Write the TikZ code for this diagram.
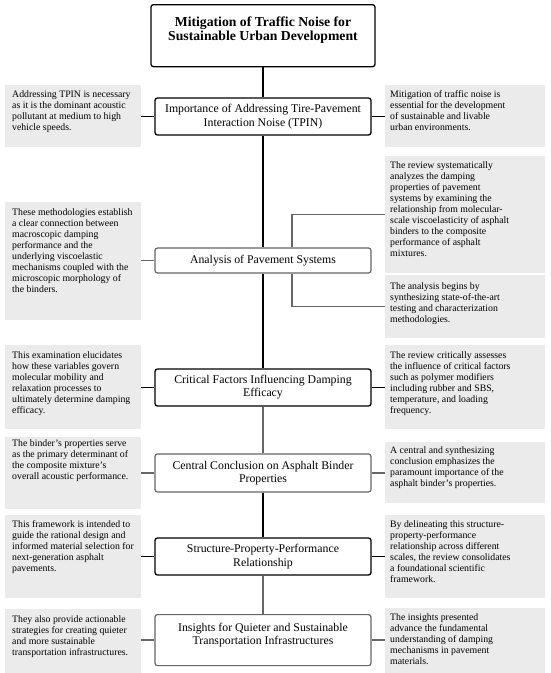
\documentclass[tikz,border=0pt]{standalone}
\usepackage{fontspec}
\setmainfont{Liberation Serif}
\definecolor{boxgray}{HTML}{EBEBEB}
\definecolor{linegray}{HTML}{666666}
\newcommand{\gfont}{\fontsize{9.8}{11}\selectfont}
\newcommand{\mfont}{\fontsize{11.8}{13.2}\selectfont}
\newcommand{\tfont}{\bfseries\fontsize{13.7}{14.2}\selectfont}
\newcommand{\gtxt}[5]{\begin{minipage}[t][#2pt][t]{#1pt}\gfont\leftskip=#4pt\rightskip=0pt plus 1fil\parindent=0pt\vspace*{#3pt}\strut #5\end{minipage}}
\begin{document}
\begin{tikzpicture}[x=1pt,y=-1pt,
  gbox/.style={fill=boxgray, inner sep=0pt, anchor=north west},
  mainbox/.style={draw=black, line width=1.3pt, rounded corners=2.5pt, fill=white, minimum width=216pt, align=center, font=\mfont, inner sep=0pt},
  graybox/.style={mainbox, draw=linegray, line width=1.2pt},
  blk/.style={draw=black, line width=1.8pt},
  gry/.style={draw=linegray, line width=1.3pt}]
\useasboundingbox[fill=white] (0,0) rectangle (550,673);

% title
\node[mainbox, minimum width=224pt, anchor=north] (title) at (263,4)
  {\begin{minipage}[t][62pt][t]{224pt}\centering\tfont\vspace*{12pt}\strut Mitigation of Traffic Noise for\\Sustainable Urban Development\end{minipage}};

% main boxes
\node[mainbox, minimum height=37pt] (tpin) at (263,116.5) {Importance of Addressing Tire-Pavement\\Interaction Noise (TPIN)};
\node[graybox, minimum height=25pt] (ana) at (263,260.5) {Analysis of Pavement Systems};
\node[mainbox, minimum height=37pt] (crit) at (263,387.5) {Critical Factors Influencing Damping\\Efficacy};
\node[graybox, minimum height=38pt] (cent) at (263,473) {Central Conclusion on Asphalt Binder\\Properties};
\node[mainbox, minimum height=37pt] (struc) at (263,556.5) {Structure-Property-Performance\\Relationship};
\node[graybox, minimum height=51pt, anchor=north] (ins) at (263,614)
  {\begin{minipage}[t][51pt][t]{216pt}\centering\mfont\vspace*{7.6pt}\strut Insights for Quieter and Sustainable\\Transportation Infrastructures\end{minipage}};

% gray text boxes
\node[gbox] (l1) at (5,85) {\gtxt{136}{62}{4.3}{7}{Addressing TPIN is necessary\\as it is the dominant acoustic\\pollutant at medium to high\\vehicle speeds.}};
\node[gbox] (r1) at (385,85) {\gtxt{160}{62}{4.3}{5}{Mitigation of traffic noise is\\essential for the development\\of sustainable and livable\\urban environments.}};
\node[gbox] (l2) at (5,202) {\gtxt{136}{118}{5.3}{7}{These methodologies establish\\a clear connection between\\macroscopic damping\\performance and the\\underlying viscoelastic\\mechanisms coupled with the\\microscopic morphology of\\the binders.}};
\node[gbox] (r2a) at (385,156) {\gtxt{160}{117}{4.3}{5}{The review systematically\\analyzes the damping\\properties of pavement\\systems by examining the\\relationship from molecular-\\scale viscoelasticity of asphalt\\binders to the composite\\performance of asphalt\\mixtures.}};
\node[gbox] (r2b) at (385,275) {\gtxt{160}{63}{6.3}{5}{The analysis begins by\\synthesizing state-of-the-art\\testing and characterization\\methodologies.}};
\node[gbox] (l3) at (5,345) {\gtxt{136}{84}{5.3}{7}{This examination elucidates\\how these variables govern\\molecular mobility and\\relaxation processes to\\ultimately determine damping\\efficacy.}};
\node[gbox] (r3) at (385,345) {\gtxt{160}{84}{5.3}{5}{The review critically assesses\\the influence of critical factors\\such as polymer modifiers\\including rubber and SBS,\\temperature, and loading\\frequency.}};
\node[gbox] (l4) at (5,437) {\gtxt{136}{72}{1.3}{7}{The binder's properties serve\\as the primary determinant of\\the composite mixture's\\overall acoustic performance.}};
\node[gbox] (r4) at (385,442) {\gtxt{160}{61}{3.3}{5}{A central and synthesizing\\conclusion emphasizes the\\paramount importance of the\\asphalt binder's properties.}};
\node[gbox] (l5) at (5,515) {\gtxt{136}{83}{4.3}{7}{This framework is intended to\\guide the rational design and\\informed material selection for\\next-generation asphalt\\pavements.}};
\node[gbox] (r5) at (385,515) {\gtxt{160}{83}{4.3}{5}{By delineating this structure-\\property-performance\\relationship across different\\scales, the review consolidates\\a foundational scientific\\framework.}};
\node[gbox] (l6) at (5,609) {\gtxt{136}{64}{5.3}{7}{They also provide actionable\\strategies for creating quieter\\and more sustainable\\transportation infrastructures.}};
\node[gbox] (r6) at (385,608) {\gtxt{160}{65}{4.3}{5}{The insights presented\\advance the fundamental\\understanding of damping\\mechanisms in pavement\\materials.}};

% trunk
\draw[blk] (title.south) -- (tpin.north);
\draw[blk] (tpin.south) -- (ana.north);
\draw[blk] (ana.south) -- (crit.north);
\draw[gry] (crit.south) -- (cent.north);
\draw[blk] (cent.south) -- (struc.north);
\draw[gry] (struc.south) -- (ins.north);

% side connectors
\draw[blk] (tpin.west -| l1.east) -- (tpin.west);
\draw[blk] (tpin.east) -- (tpin.east -| r1.west);
\draw[gry] (ana.west -| l2.east) -- (ana.west);
\draw[gry] ([xshift=29pt]ana.north) |- (r2a.west);
\draw[gry] ([xshift=29pt]ana.south) |- (r2b.west);
\draw[blk] (crit.west -| l3.east) -- (crit.west);
\draw[blk] (crit.east) -- (crit.east -| r3.west);
\draw[gry] (cent.west -| l4.east) -- (cent.west);
\draw[gry] (cent.east) -- (cent.east -| r4.west);
\draw[blk] (struc.west -| l5.east) -- (struc.west);
\draw[blk] (struc.east) -- (struc.east -| r5.west);
\draw[gry] (ins.west -| l6.east) -- (ins.west);
\draw[gry] (ins.east) -- (ins.east -| r6.west);
\end{tikzpicture}
\end{document}
